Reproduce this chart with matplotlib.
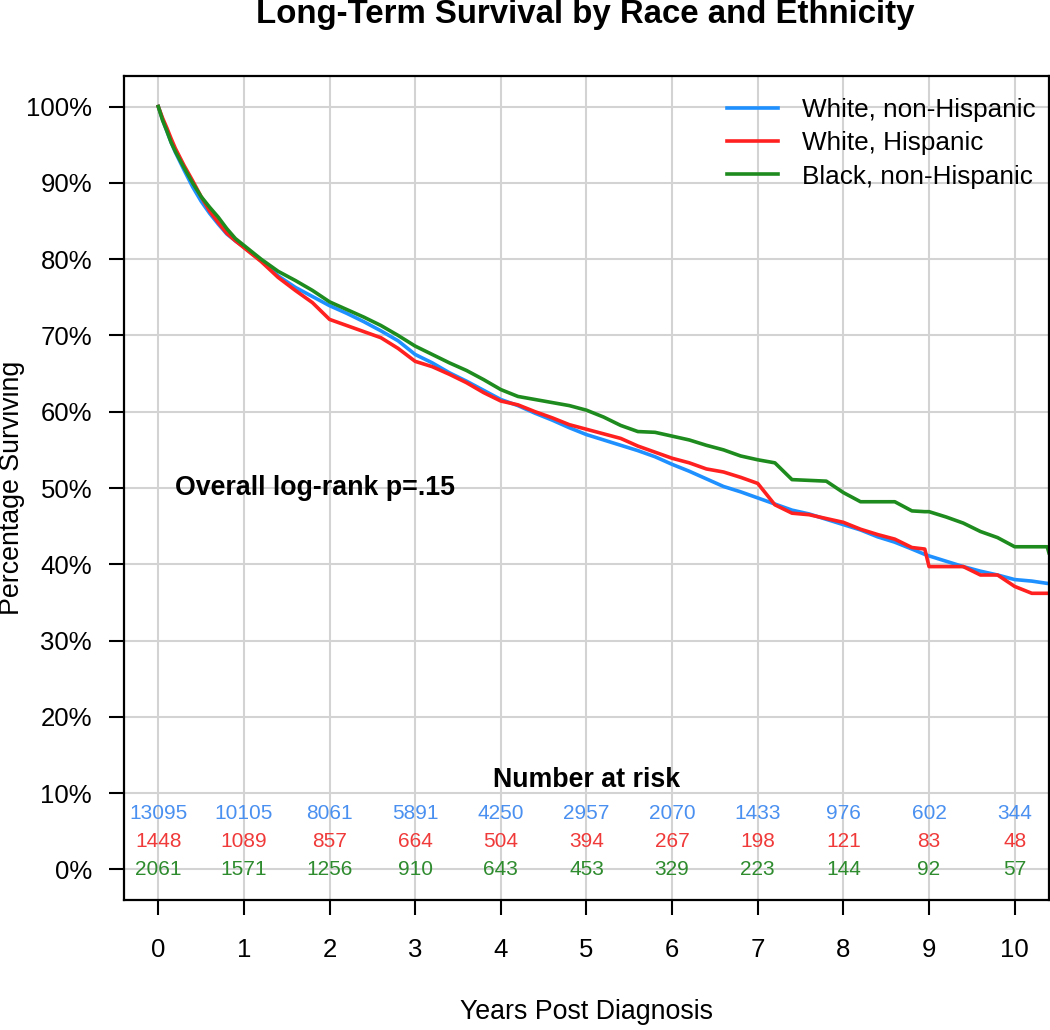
import matplotlib
matplotlib.use("Agg")
import matplotlib.pyplot as plt

plt.rcParams['font.family'] = ['Liberation Sans', 'DejaVu Sans']

# survival (years, percent surviving)
years = [0, 0.05, 0.1, 0.15, 0.2, 0.3, 0.4, 0.5, 0.6, 0.7, 0.8, 0.9, 1.0,
         1.2, 1.4, 1.6, 1.8, 2.0, 2.2, 2.4, 2.6, 2.8, 3.0, 3.2, 3.4, 3.6, 3.8,
         4.0, 4.2, 4.4, 4.6, 4.8, 5.0, 5.2, 5.4, 5.6, 5.8, 6.0, 6.2, 6.4, 6.6,
         6.8, 7.0, 7.2, 7.4, 7.6, 7.8, 8.0, 8.2, 8.4, 8.6, 8.8, 8.95, 9.0, 9.2, 9.4,
         9.6, 9.8, 10.0, 10.2, 10.38, 10.4]

white_nh = [100, 98.3, 96.8, 95.3, 94.0, 91.7, 89.5, 87.6, 86.0, 84.6, 83.3, 82.4, 81.6,
            79.8, 77.8, 76.3, 75.1, 73.9, 72.9, 71.8, 70.6, 69.3, 67.5, 66.4, 65.1, 64.0, 62.8,
            61.6, 60.8, 59.8, 58.9, 57.9, 57.0, 56.3, 55.6, 54.9, 54.1, 53.1, 52.2, 51.2, 50.2,
            49.5, 48.7, 47.9, 47.1, 46.6, 45.9, 45.2, 44.5, 43.6, 42.9, 42.0, 41.3, 41.1, 40.4, 39.7,
            39.1, 38.6, 38.0, 37.8, 37.5, 37.5]

white_h = [100, 98.5, 97.2, 95.8, 94.5, 92.3, 90.3, 88.2, 86.3, 84.8, 83.4, 82.4, 81.5,
           79.7, 77.6, 75.9, 74.3, 72.1, 71.3, 70.5, 69.7, 68.3, 66.6, 65.9, 64.9, 63.8, 62.5,
           61.4, 60.9, 60.0, 59.2, 58.3, 57.7, 57.1, 56.5, 55.5, 54.7, 53.9, 53.3, 52.5, 52.1,
           51.4, 50.6, 47.8, 46.7, 46.5, 46.0, 45.5, 44.6, 43.9, 43.3, 42.2, 42.0, 39.7, 39.7, 39.7,
           38.6, 38.6, 37.1, 36.2, 36.2, 36.2]

black_nh = [100, 98.2, 96.8, 95.3, 94.1, 92.0, 90.0, 88.2, 86.8, 85.5, 84.0, 82.7, 81.8,
            80.0, 78.4, 77.2, 75.9, 74.4, 73.4, 72.4, 71.3, 70.0, 68.6, 67.5, 66.4, 65.4, 64.2,
            62.9, 62.0, 61.6, 61.2, 60.8, 60.2, 59.3, 58.2, 57.4, 57.3, 56.8, 56.3, 55.6, 55.0,
            54.2, 53.7, 53.3, 51.1, 51.0, 50.9, 49.4, 48.2, 48.2, 48.2, 47.0, 46.9, 46.9, 46.2, 45.4,
            44.3, 43.5, 42.3, 42.3, 42.3, 41.5]

groups = ['White, non-Hispanic', 'White, Hispanic', 'Black, non-Hispanic']
colors = ['#1E90FF', '#FF2020', '#1E8B1E']

# number at risk table
risk_years = [0, 1, 2, 3, 4, 5, 6, 7, 8, 9, 10]
risk_white_nh = [13095, 10105, 8061, 5891, 4250, 2957, 2070, 1433, 976, 602, 344]
risk_white_h = [1448, 1089, 857, 664, 504, 394, 267, 198, 121, 83, 48]
risk_black_nh = [2061, 1571, 1256, 910, 643, 453, 329, 223, 144, 92, 57]
risk_rows_y = [7.4, 3.7, 0.0]
risk_colors = ['#4A90F0', '#F03A3A', '#2E8B2E']

fig = plt.figure(figsize=(10.5, 10.3), dpi=100)
ax = fig.add_axes([0.1181, 0.1262, 0.8809, 0.8000])

ax.grid(True, color='#d3d3d3', linewidth=1.5)
ax.set_axisbelow(True)

for vals, name, c in zip([white_nh, white_h, black_nh], groups, colors):
    ax.plot(years, vals, color=c, linewidth=2.6, label=name)

for row, yy, c in zip([risk_white_nh, risk_white_h, risk_black_nh], risk_rows_y, risk_colors):
    for t, n in zip(risk_years, row):
        ax.text(t, yy, str(n), color=c, fontsize=15, ha='center', va='center')

ax.text(5, 11.7, 'Number at risk', fontsize=19.3, fontweight='bold', ha='center', va='center')
ax.text(0.2, 50, 'Overall log-rank p=.15', fontsize=19.3, fontweight='bold', ha='left', va='center')

ax.set_xlim(-0.4, 10.4)
ax.set_ylim(-4, 104)
ax.set_xticks(range(0, 11))
ax.set_yticks(range(0, 101, 10))
ax.set_yticklabels([f'{v}%' for v in range(0, 101, 10)])
ax.tick_params(axis='both', labelsize=18.5, length=11, width=1.5, direction='out')
ax.tick_params(axis='x', pad=16)
ax.tick_params(axis='y', pad=12)
for s in ax.spines.values():
    s.set_linewidth(1.6)

fig.text(0.5576, (1030 - 23) / 1030, 'Long-Term Survival by Race and Ethnicity',
         fontsize=23.8, fontweight='bold', ha='center', va='baseline')
ax.set_xlabel('Years Post Diagnosis', fontsize=19.3)
ax.set_ylabel('Percentage Surviving', fontsize=19.3)
ax.xaxis.set_label_coords(0.5, -0.120)
ax.yaxis.set_label_coords(-0.107, 0.5)

ax.legend(loc='upper right', bbox_to_anchor=(0.986, 0.973), frameon=False, fontsize=18.8,
          handlelength=1.92, handletextpad=0.95, labelspacing=0.35, borderpad=0, borderaxespad=0)

fig.savefig('out.png', dpi=100)
